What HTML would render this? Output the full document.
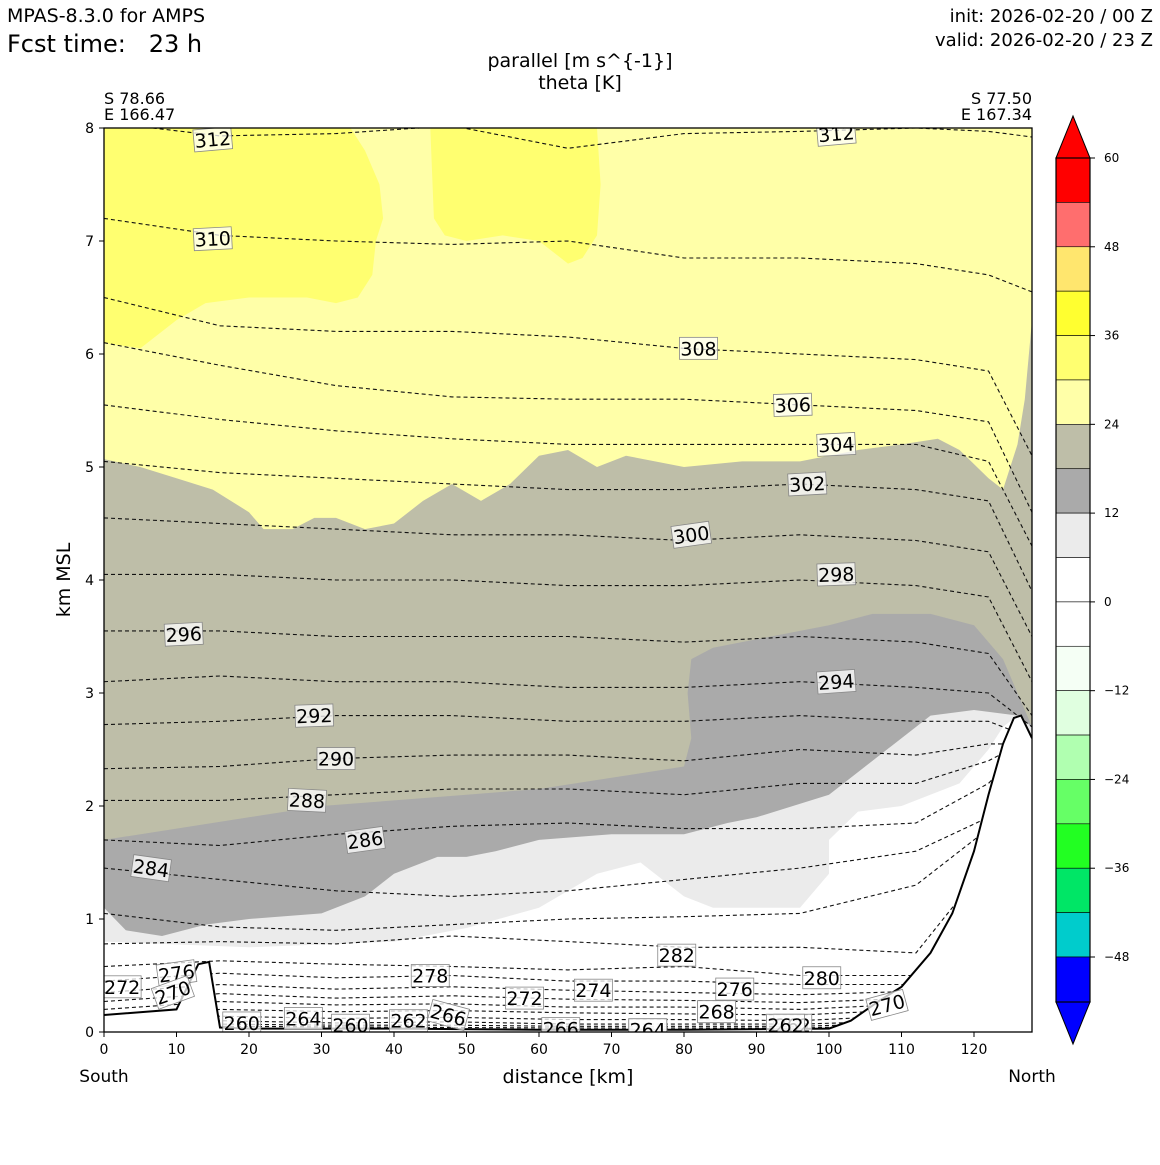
<!DOCTYPE html>
<html><head><meta charset="utf-8"><style>
body{margin:0;background:#fff;}
svg text{font-family:"DejaVu Sans","Liberation Sans",sans-serif;}
</style></head><body>
<svg id="c" width="1160" height="1160" viewBox="0 0 1160 1160" xmlns="http://www.w3.org/2000/svg">
<text x="7" y="22" font-size="19">MPAS-8.3.0 for AMPS</text>
<text x="7" y="52" font-size="24" xml:space="preserve">Fcst time:   23 h</text>
<text x="1153" y="22" font-size="18" text-anchor="end">init: 2026-02-20 / 00 Z</text>
<text x="1153" y="46" font-size="18" text-anchor="end">valid: 2026-02-20 / 23 Z</text>
<text x="580" y="67" font-size="19" text-anchor="middle">parallel [m s^{-1}]</text>
<text x="580" y="89" font-size="19" text-anchor="middle">theta [K]</text>
<text x="104" y="104" font-size="16">S 78.66</text>
<text x="104" y="120" font-size="16">E 166.47</text>
<text x="1032" y="104" font-size="16" text-anchor="end">S 77.50</text>
<text x="1032" y="120" font-size="16" text-anchor="end">E 167.34</text>
<g id="plot"></g>
<g id="cbar"></g>
<text x="568" y="1083" font-size="19" text-anchor="middle">distance [km]</text>
<text x="104" y="1082" font-size="17" text-anchor="middle">South</text>
<text x="1032" y="1082" font-size="17" text-anchor="middle">North</text>
<text transform="translate(70,580) rotate(-90)" font-size="19" text-anchor="middle">km MSL</text>
</svg>
<script>
const NS="http://www.w3.org/2000/svg";
const xTicks=[0,10,20,30,40,50,60,70,80,90,100,110,120];
const yTicks=[0,1,2,3,4,5,6,7,8];
const xs=[0,16,32,48,64,80,96,112,122,128];
const thetaLevels=[312,310,308,306,304,302,300,298,296,294,292,290,288,286,284,282,280,278,276,274,272,270,268,266,264,262,260];
const th312=[8.05,7.93,7.95,8.02,7.82,7.95,7.97,8.0,7.97,7.92];
const th310=[7.2,7.05,7.0,6.97,7.0,6.85,6.85,6.8,6.7,6.55];
const th308=[6.5,6.25,6.2,6.2,6.15,6.05,6.0,5.95,5.85,5.1];
const th306=[6.1,5.9,5.72,5.62,5.6,5.6,5.55,5.5,5.4,4.6];
const th304=[5.55,5.42,5.32,5.25,5.2,5.2,5.2,5.2,5.05,4.3];
const th302=[5.05,4.95,4.9,4.85,4.8,4.8,4.85,4.8,4.7,3.9];
const th300=[4.55,4.5,4.45,4.4,4.4,4.35,4.4,4.35,4.25,3.5];
const th298=[4.05,4.05,4.0,4.0,3.95,3.95,4.0,3.95,3.85,3.1];
const th296=[3.55,3.55,3.5,3.5,3.5,3.45,3.5,3.45,3.35,2.8];
const th294=[3.1,3.15,3.1,3.1,3.05,3.05,3.1,3.05,3.0,2.7];
const th292=[2.72,2.75,2.8,2.8,2.75,2.75,2.8,2.75,2.75,2.6];
const th290=[2.33,2.35,2.42,2.45,2.45,2.4,2.5,2.45,2.55,2.55];
const th288=[2.05,2.05,2.1,2.15,2.15,2.1,2.2,2.2,2.4,2.6];
const th286=[1.7,1.65,1.75,1.82,1.85,1.8,1.8,1.85,2.2,2.6];
const th284=[1.45,1.35,1.25,1.2,1.25,1.35,1.45,1.6,1.9,2.2];
const th282=[1.05,0.93,0.9,0.95,1.0,1.02,1.05,1.3,1.8,2.2];
const th280=[0.78,0.8,0.78,0.85,0.8,0.75,0.75,0.7,1.5,2.2];
const th278=[0.58,0.63,0.6,0.58,0.55,0.58,0.5,0.5,1.2,2.0];
const th276=[0.45,0.52,0.48,0.5,0.45,0.45,0.42,0.42,1.0,2.0];
const th274=[0.35,0.42,0.38,0.4,0.37,0.35,0.33,0.36,1.0,2.0];
const th272=[0.27,0.34,0.3,0.32,0.29,0.28,0.26,0.3,1.0,2.0];
const th270=[0.2,0.27,0.24,0.25,0.22,0.22,0.2,0.25,1.0,2.0];
const th268=[0.14,0.2,0.18,0.19,0.17,0.16,0.15,0.2,1.0,2.0];
const th266=[0.08,0.14,0.12,0.13,0.11,0.11,0.1,0.15,1.0,2.0];
const th264=[0.06,0.1,0.08,0.09,0.07,0.07,0.07,0.1,1.0,2.0];
const th262=[0.05,0.07,0.06,0.06,0.05,0.05,0.05,0.08,1.0,2.0];
const th260=[0.04,0.05,0.045,0.04,0.035,0.035,0.035,0.06,1.0,2.0];
const thetaSeries=[th312,th310,th308,th306,th304,th302,th300,th298,th296,th294,th292,th290,th288,th286,th284,th282,th280,th278,th276,th274,th272,th270,th268,th266,th264,th262,th260];
const terrX=[0,10,13,14.5,16,20,40,60,80,100,103,107,110,114,117,120,122,124,125.5,126.5,128];
const terrZ=[0.15,0.2,0.6,0.62,0.04,0.03,0.03,0.02,0.02,0.03,0.1,0.28,0.4,0.7,1.05,1.6,2.1,2.55,2.78,2.8,2.6];
const blob1X=[0,5,10,14,20,28,32,35,37,37.5,38,38.5,38,36,34];
const blob1Z=[6.1,6.05,6.3,6.45,6.5,6.5,6.45,6.5,6.7,7.0,7.1,7.2,7.5,7.8,8];
const blob2X=[45,45.5,47,50,55,60,64,66,68,68.5,68];
const blob2Z=[8,7.2,7.05,7.0,7.05,7.0,6.8,6.85,7.05,7.5,8];
const beigeX=[0,5,10,15,20,22,26,29,32,36,40,44,48,52,56,60,64,68,72,76,80,88,96,104,110,115,118,122,124,126,127,128];
const beigeZ=[5.07,5.0,4.9,4.8,4.6,4.45,4.45,4.55,4.55,4.45,4.5,4.7,4.85,4.7,4.85,5.1,5.15,5.0,5.1,5.05,5.0,5.05,5.05,5.15,5.2,5.25,5.15,4.9,4.8,5.2,5.6,6.3];
const dgrayX=[0,10,20,30,40,50,60,70,80,81,80.5,81,84,92,100,106,114,120,124,128];
const dgrayZ=[1.7,1.8,1.9,2.0,2.05,2.1,2.15,2.25,2.35,2.6,3.0,3.3,3.4,3.5,3.6,3.7,3.7,3.6,3.3,2.7];
const lgrayX=[0,3,8,14,20,30,36,40,46,50,54,60,70,80,86,90,100,108,114,120,126,128];
const lgrayZ=[1.1,0.9,0.85,0.95,1.0,1.05,1.2,1.4,1.55,1.55,1.6,1.7,1.75,1.75,1.85,1.9,2.1,2.5,2.8,2.85,2.8,2.7];
const whiteX=[0,20,40,50,60,68,74,80,84,96,100,100,104,110,118,122,124,126,128,128,0];
const whiteZ=[0.8,0.75,0.8,0.92,1.1,1.4,1.5,1.2,1.1,1.1,1.4,1.7,1.95,2.0,2.2,2.5,2.7,2.8,2.6,0,0];
const cbLevels=[60,54,48,42,36,30,24,18,12,6,0,-6,-12,-18,-24,-30,-36,-42,-48,-54];
const cbColors=["#ff0000","#ff6e6e","#ffe66e","#ffff30","#ffff70","#ffffa8","#bebea8","#aaaaaa","#ebebeb","#ffffff","#ffffff","#f5fff5","#e0ffe0","#b0ffb0","#66ff66","#22ff22","#00e666","#00cccc","#0000ff"];
const cbTicks=[60,48,36,24,12,0,-12,-24,-36,-48];
const labelTheta=[312,312,310,308,306,304,302,300,298,296,294,292,290,288,286,284,282,280,278,276,276,272,270,270,268,266,264,262,262,260,260,264,266,264,268,262,274,272];
const labelX=[15,101,15,82,95,101,97,81,101,11,101,29,32,28,36,6.5,79,99,45,10,87,2.5,9.5,108,84.5,47.5,27.5,42,95,19,34,75,63,75,84.5,94,67.5,58];
const labelZ=[7.9,7.95,7.02,6.05,5.55,5.2,4.85,4.4,4.05,3.52,3.1,2.8,2.42,2.05,1.7,1.45,0.68,0.48,0.5,0.52,0.38,0.4,0.35,0.24,0.18,0.15,0.12,0.1,0.06,0.08,0.06,0.02,0.03,0.02,0.18,0.06,0.37,0.3];
const labelRot=[-5,-5,-3,0,-2,-3,-3,-8,-2,-3,-4,-2,0,3,-8,8,0,0,0,-8,0,0,-20,-15,0,15,0,0,0,0,0,0,0,0,0,0,0,0];

const X0=104,X1=1032,Y0=1032,Y1=128;
const sx=v=>X0+(v/128)*(X1-X0);
const sy=v=>Y0-(v/8)*(Y0-Y1);
const plot=document.getElementById('plot');
function mk(t,a,p){const e=document.createElementNS(NS,t);for(const k in a)e.setAttribute(k,a[k]);(p||plot).appendChild(e);return e;}
function pts(X,Z){return X.map((x,i)=>sx(x).toFixed(1)+","+sy(Z[i]).toFixed(1)).join(" ");}
function area(X,Z,top){return pts(X,Z)+" "+sx(X[X.length-1])+","+sy(top)+" "+sx(X[0])+","+sy(top);}
// clip
const defs=mk('defs',{});const cp=mk('clipPath',{id:'clp'},defs);mk('rect',{x:X0,y:Y1,width:X1-X0,height:Y0-Y1},cp);
const g=mk('g',{'clip-path':'url(#clp)'});
let e;
e=mk('rect',{x:X0,y:Y1,width:X1-X0,height:Y0-Y1,fill:"#ebebeb"},g);

e=mk('polygon',{points:pts(whiteX,whiteZ),fill:"#ffffff"},g);

e=mk('polygon',{points:pts(lgrayX,lgrayZ)+" "+sx(128)+","+sy(8)+" "+sx(0)+","+sy(8),fill:"#aaaaaa"},g);

e=mk('polygon',{points:area(dgrayX,dgrayZ,8),fill:"#bebea8"},g);

e=mk('polygon',{points:area(beigeX,beigeZ,8),fill:"#ffffa8"},g);

e=mk('polygon',{points:pts(blob1X,blob1Z)+" "+sx(0)+","+sy(8),fill:"#ffff70"},g);

e=mk('polygon',{points:pts(blob2X,blob2Z),fill:"#ffff70"},g);

thetaSeries.forEach((s,i)=>{
 const l=mk('polyline',{points:pts(xs,s),fill:"none",stroke:"#111","stroke-width":1.1,"stroke-dasharray":"4,3"},g);
 
 
});
e=mk('polygon',{points:pts(terrX,terrZ)+" "+sx(128)+","+sy(0)+" "+sx(0)+","+sy(0),fill:"#ffffff"},g);

e=mk('polyline',{points:pts(terrX,terrZ),fill:"none",stroke:"#000","stroke-width":2},g);

labelTheta.forEach((t,i)=>{
 const lg=mk('g',{transform:`translate(${sx(labelX[i])},${sy(labelZ[i])}) rotate(${labelRot[i]})`},g);
 
 
 mk('rect',{x:-19,y:-11,width:38,height:22,fill:"rgba(255,255,255,0.75)",stroke:"#888","stroke-width":0.8},lg);
 const tx=mk('text',{x:0,y:7,"font-size":19,"text-anchor":"middle",fill:"#000"},lg);tx.textContent=t;
});
e=mk('rect',{x:X0,y:Y1,width:X1-X0,height:Y0-Y1,fill:"none",stroke:"#000","stroke-width":1.3});

xTicks.forEach(v=>{
 mk('line',{x1:sx(v),x2:sx(v),y1:Y0,y2:Y0+5,stroke:"#000"});
 const t=mk('text',{x:sx(v),y:Y0+22,"font-size":14,"text-anchor":"middle"});t.textContent=v;
 
});
yTicks.forEach(v=>{
 mk('line',{x1:X0-5,x2:X0,y1:sy(v),y2:sy(v),stroke:"#000"});
 const t=mk('text',{x:X0-10,y:sy(v)+5,"font-size":14,"text-anchor":"end"});t.textContent=v;
 
});
// colorbar
const cb=document.getElementById('cbar');
const CX=1056,CW=34,CT=158,CB=1002;
const cy=v=>CT+(60-v)/120*(CB-CT)*120/120;
const cyy=v=>CT+(60-v)*(957-158)/108;
mk('polygon',{points:`${CX},${CT} ${CX+CW/2},116 ${CX+CW},${CT}`,fill:"#ff0000",stroke:"#000"},cb);
mk('polygon',{points:`${CX},${CB} ${CX+CW/2},1044 ${CX+CW},${CB}`,fill:"#0000ff",stroke:"#000"},cb);
cbColors.forEach((c,i)=>{
 const top=cyy(cbLevels[i]);const bot=i==cbColors.length-1?CB:cyy(cbLevels[i+1]);
 const r=mk('rect',{x:CX,y:top,width:CW,height:bot-top,fill:c,stroke:"#000","stroke-width":0.6},cb);
 
});
mk('rect',{x:CX,y:CT,width:CW,height:CB-CT,fill:"none",stroke:"#000","stroke-width":1.2},cb);
cbTicks.forEach(v=>{
 mk('line',{x1:CX+CW,x2:CX+CW+5,y1:cyy(v),y2:cyy(v),stroke:"#000"},cb);
 const t=mk('text',{x:CX+CW+14,y:cyy(v)+4,"font-size":12},cb);t.textContent=v<0?"\u2212"+(-v):v;
 
});
</script>
</body></html>
